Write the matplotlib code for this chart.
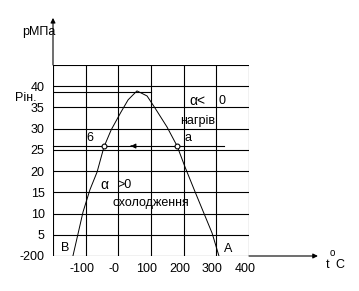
import matplotlib
matplotlib.use("Agg")
import matplotlib.pyplot as plt
from matplotlib.transforms import ScaledTranslation

plt.rcParams['font.family'] = ['Liberation Sans', 'DejaVu Sans']

# ---------------- data ----------------
t_curve = [-139, -108, -87, -65, -44, -22, 8, 30, 57, 88, 112, 149, 180, 204, 235, 287, 308]
p_curve = [0, 10.4, 15.6, 19.8, 25.7, 29.7, 33.9, 36.8, 38.9, 37.7, 34.9, 30.4, 25.9, 21.0, 15.1, 5.4, 0]

x_ticks = [-200, -100, 0, 100, 200, 300, 400]
x_labels = ["", "-100", "-0", "100", "200", "300", "400"]
y_ticks = [0, 5, 10, 15, 20, 25, 30, 35, 40, 45]
y_labels = ["-200", "5", "10", "15", "20", "25", "30", "35", "40", ""]

p_in = 38.7          # Рін. level
p_work = 25.9        # line a-6
t_points = [-44, 180]  # points 6 and a

# ---------------- figure ----------------
fig = plt.figure(figsize=(3.59, 2.91), dpi=100)
ax = fig.add_axes([53 / 359, 35 / 291, 196 / 359, 191 / 291])
ax.set_xlim(-200, 400)
ax.set_ylim(0, 45)

lw = 0.8
for x in x_ticks:
    ax.plot([x, x], [0, 45], color='k', lw=lw)
for y in y_ticks:
    ax.plot([-200, 400], [y, y], color='k', lw=lw)

ax.plot(t_curve, p_curve, color='k', lw=0.7)

ax.plot([-200, 100], [p_in, p_in], color='k', lw=lw)
ax.plot([-200, 323], [p_work, p_work], color='k', lw=lw, clip_on=False)
ax.plot(t_points, [p_work, p_work], 'o', ms=3.5, mfc='white', mec='k', mew=0.8)
ax.annotate("", xy=(38, p_work), xytext=(48, p_work),
            arrowprops=dict(arrowstyle='-|>', color='k', lw=0.8, mutation_scale=7))

for s in ax.spines.values():
    s.set_visible(False)

fs = 9
ax.set_xticks(x_ticks)
ax.set_xticklabels(x_labels)
ax.set_yticks(y_ticks)
ax.set_yticklabels(y_labels)
ax.tick_params(length=0, labelsize=fs)
ax.tick_params(axis='x', pad=5)
ax.tick_params(axis='y', pad=6)
shift = ScaledTranslation(-4 / 100, 0, fig.dpi_scale_trans)
for lab in ax.get_xticklabels():
    lab.set_transform(lab.get_transform() + shift)

# axis arrows
ax.annotate("", xy=(-200, 56.1), xytext=(-200, 45), annotation_clip=False,
            arrowprops=dict(arrowstyle='-|>', color='k', lw=lw, mutation_scale=7,
                            shrinkA=0, shrinkB=0))
ax.annotate("", xy=(611, 0), xytext=(400, 0), annotation_clip=False,
            arrowprops=dict(arrowstyle='-|>', color='k', lw=lw, mutation_scale=7,
                            shrinkA=0, shrinkB=0))

# labels
ax.text(-295, 52.8, "рМПа", fontsize=fs, va='center', clip_on=False)
ax.text(-252, 37.3, "Рін.", fontsize=fs, va='center', ha='right', clip_on=False)
ax.text(-87, 27.8, "6", fontsize=fs, va='center', ha='center')
ax.text(213, 27.8, "a", fontsize=fs, va='center', ha='center')
ax.text(219, 36.6, "α<", fontsize=10, va='center')
ax.text(306, 36.6, "0", fontsize=fs, va='center')
ax.text(190, 31.8, "нагрів", fontsize=fs, va='center')
ax.text(-56, 16.8, "α", fontsize=10, va='center')
ax.text(-4, 16.8, ">0", fontsize=fs, va='center')
ax.text(-18, 12.4, "охолодження", fontsize=fs, va='center')
ax.text(-163, 1.9, "B", fontsize=fs, va='center', ha='center')
ax.text(336, 1.6, "A", fontsize=fs, va='center', ha='center')
ax.text(636, -2.2, "t", fontsize=fs, va='center', clip_on=False)
ax.text(648, 0.7, "o", fontsize=7, va='center', clip_on=False)
ax.text(664, -2.2, "C", fontsize=fs, va='center', clip_on=False)

fig.savefig("out.png", dpi=100)
